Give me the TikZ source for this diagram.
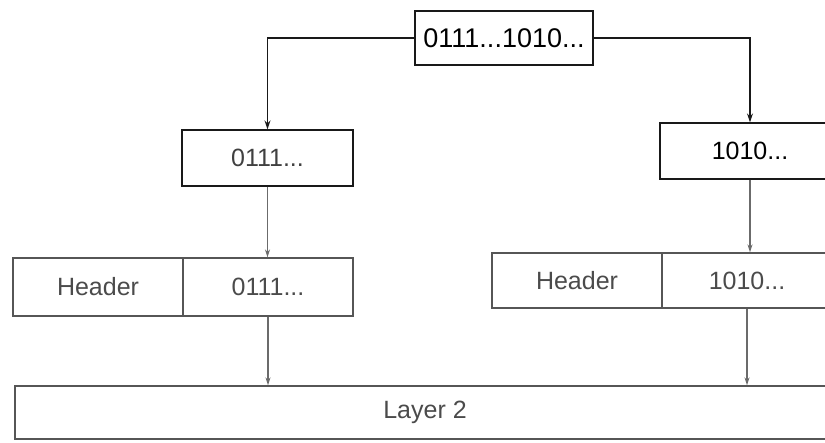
\documentclass[tikz,border=0pt]{standalone}
\usepackage{fontspec}
\setmainfont{Liberation Sans}
\usetikzlibrary{arrows.meta,calc}
\definecolor{LineClr}{rgb}{0.1,0.1,0.1}
\definecolor{ScanClr}{rgb}{0.42,0.42,0.42}

\begin{document}
\begin{tikzpicture}[x=1pt,y=-1pt,
  bitbox/.style={draw=LineClr,line width=1.3pt,inner sep=0pt,
    font=\fontsize{25}{30}\selectfont},
  lowbox/.style={bitbox,draw=ScanClr!80!black,text=ScanClr!70!black},
  topflow/.style={draw=LineClr,line width=1.4pt,-{Stealth[length=9pt,width=6pt]}},
  lowflow/.style={draw=ScanClr,line width=1.3pt,-{Stealth[length=8pt,width=5pt]}}]
\useasboundingbox (0,0) rectangle (825,443);
\clip (0,0) rectangle (825,443);

% \node (bits) at (504,38) ...
\node[bitbox,minimum width=178pt,minimum height=54pt,
  font=\fontsize{27}{30}\selectfont] (bits) at (504,38) {0111...1010...};

\node[bitbox,minimum width=171pt,minimum height=56pt,text=ScanClr!60!black] (a0) at (267.5,158) {0111...};
\node[bitbox,minimum width=180pt,minimum height=56pt] (a1) at (750,151) {1010...};

\node[lowbox,minimum width=170pt,minimum height=58pt] (hA) at (98,287) {Header};
\node[lowbox,minimum width=170pt,minimum height=58pt] (pA) at (268,287) {0111...};
\node[lowbox,minimum width=170pt,minimum height=55pt] (hB) at (577,280.5) {Header};
\node[lowbox,minimum width=170pt,minimum height=55pt] (pB) at (747,280.5) {1010...};

\node[lowbox,minimum width=820pt,minimum height=53pt] (layer) at (425,412.5) {Layer 2};

\draw[topflow] (bits.west) -| (a0.north);
\draw[topflow] (bits.east) -| (a1.north);

\draw[lowflow] (a0.south) -- (a0.south |- pA.north);
\draw[lowflow] (a1.south) -- (a1.south |- pB.north);
\draw[lowflow] (pA.south) -- (pA.south |- layer.north);
\draw[lowflow] (pB.south) -- (pB.south |- layer.north);

\end{tikzpicture}
\end{document}
